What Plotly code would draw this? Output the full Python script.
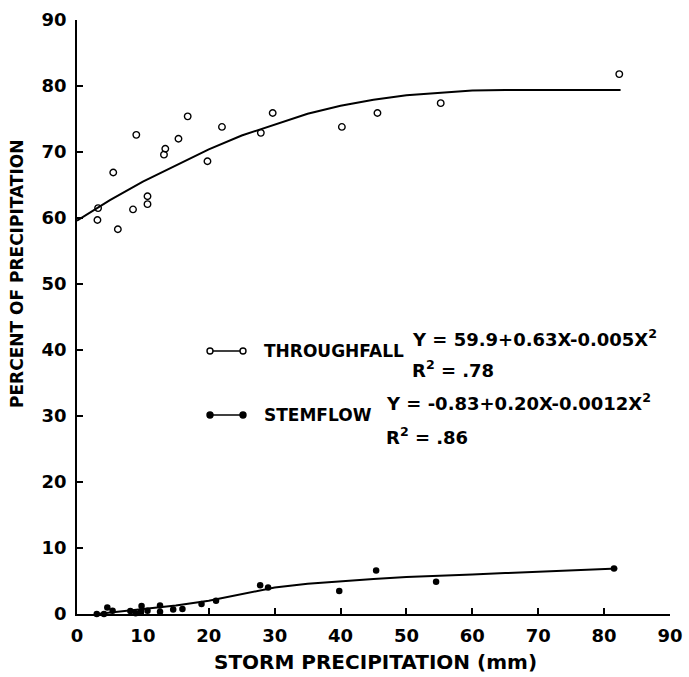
import plotly.graph_objects as go

# ---------------- data ----------------
tf_x = [3.1, 3.2, 5.5, 6.2, 8.5, 9.0, 10.7, 10.7, 13.2, 13.4, 15.4, 16.8,
        19.8, 22.0, 27.9, 29.7, 40.2, 45.6, 55.2, 82.3]
tf_y = [59.7, 61.5, 66.9, 58.3, 61.3, 72.6, 63.3, 62.1, 69.6, 70.5, 72.0, 75.4,
        68.6, 73.8, 72.9, 75.9, 73.8, 75.9, 77.4, 81.8]

sf_x = [3.0, 4.1, 4.6, 5.4, 8.1, 8.9, 9.7, 9.8, 10.7, 12.6, 12.6, 14.6,
        16.0, 18.9, 21.1, 27.8, 29.0, 39.8, 45.4, 54.5, 81.5]
sf_y = [0.0, 0.0, 1.0, 0.5, 0.45, 0.1, 0.35, 1.2, 0.5, 1.3, 0.35, 0.7,
        0.75, 1.5, 2.0, 4.35, 4.0, 3.5, 6.6, 4.9, 6.9]

tf_curve_x = [0, 5, 10, 15, 20, 25, 30, 35, 40, 45, 50, 55, 60, 65, 70, 75, 82.5]
tf_curve_y = [59.6, 62.7, 65.5, 68.0, 70.4, 72.5, 74.2, 75.8, 77.0, 77.9, 78.6,
              79.0, 79.3, 79.4, 79.4, 79.4, 79.4]

sf_curve_x = [3, 5, 10, 15, 20, 25, 30, 35, 40, 45, 50, 55, 60, 65, 70, 75, 82]
sf_curve_y = [0.0, 0.2, 0.7, 1.3, 2.0, 3.0, 4.0, 4.6, 5.0, 5.3, 5.6, 5.85, 6.0,
              6.2, 6.4, 6.6, 6.9]

tick_vals = [0, 10, 20, 30, 40, 50, 60, 70, 80, 90]
tick_labels = ["0", "10", "20", "30", "40", "50", "60", "70", "80", "90"]

x_title = "STORM PRECIPITATION (mm)"
y_title = "PERCENT OF PRECIPITATION"
tf_label = "THROUGHFALL"
sf_label = "STEMFLOW"
tf_eq = "Y = 59.9+0.63X-0.005X<sup>2</sup>"
tf_r2 = "R<sup>2</sup> = .78"
sf_eq = "Y = -0.83+0.20X-0.0012X<sup>2</sup>"
sf_r2 = "R<sup>2</sup> = .86"

# ---------------- layout helpers (page pixel positions) ----------------
W, H = 689, 677                      # browser window (page body margin removed)
PL, PR, PT, PB = 77, 670, 20, 614    # plot area edges on the page


def px(x):
    return (x - PL) / (PR - PL)


def py(y):
    return (PB - y) / (PB - PT)


FONT = "DejaVu Sans, Verdana, sans-serif"

fig = go.Figure()

fig.add_trace(go.Scatter(x=tf_curve_x, y=tf_curve_y, mode="lines",
                         line=dict(color="black", width=2), showlegend=False))
fig.add_trace(go.Scatter(x=sf_curve_x, y=sf_curve_y, mode="lines",
                         line=dict(color="black", width=2), showlegend=False))
fig.add_trace(go.Scatter(x=tf_x, y=tf_y, mode="markers", cliponaxis=False,
                         marker=dict(symbol="circle-open", size=6.5, color="black",
                                     line=dict(width=1.4, color="black")),
                         showlegend=False))
fig.add_trace(go.Scatter(x=sf_x, y=sf_y, mode="markers", cliponaxis=False,
                         marker=dict(symbol="circle", size=6.5, color="black"),
                         showlegend=False))

axis_common = dict(
    range=[0, 90], tickmode="array", tickvals=tick_vals, ticktext=tick_labels,
    ticks="inside", ticklen=6, tickwidth=1.5, tickcolor="black",
    showline=True, linecolor="black", linewidth=1.5,
    showgrid=False, zeroline=False, ticklabeloverflow="allow", automargin=False,
    tickfont=dict(family=FONT, size=18, color="black", weight="bold"),
)

fig.update_xaxes(**axis_common, ticklabelstandoff=5)
fig.update_yaxes(**axis_common, ticklabelstandoff=5)

ann_font = dict(family=FONT, size=17, color="black", weight="bold")
eq_font = dict(family=FONT, size=18, color="black", weight="bold")


def ann(text, x, y, font, xanchor="left", angle=0):
    return dict(text=text, x=px(x), y=py(y), xref="paper", yref="paper",
                showarrow=False, xanchor=xanchor, yanchor="middle",
                textangle=angle, font=font)


annotations = [
    ann(x_title, 375, 662, dict(family=FONT, size=20, color="black", weight="bold"),
        xanchor="center"),
    ann(y_title, 17, 274, dict(family=FONT, size=17, color="black", weight="bold"),
        xanchor="center", angle=-90),
    ann(tf_label, 262, 351, ann_font),
    ann(tf_eq, 410, 338, eq_font),
    ann(tf_r2, 410, 369, eq_font),
    ann(sf_label, 262, 415, ann_font),
    ann(sf_eq, 384, 402, eq_font),
    ann(sf_r2, 384, 436, eq_font),
]

# legend keys: a line with a circle at each end
shapes = []
r = 3
for yk, filled in [(351, False), (415, True)]:
    shapes.append(dict(type="line", xref="paper", yref="paper",
                       x0=px(210), x1=px(243), y0=py(yk), y1=py(yk),
                       line=dict(color="black", width=1.5)))
    for xc in (210, 243):
        shapes.append(dict(type="circle", xref="paper", yref="paper",
                           x0=px(xc - r), x1=px(xc + r), y0=py(yk + r), y1=py(yk - r),
                           line=dict(color="black", width=1.4),
                           fillcolor="black" if filled else "white"))

fig.update_layout(
    width=W, height=H,
    margin=dict(l=PL, r=W - PR, t=PT, b=H - PB),
    plot_bgcolor="white", paper_bgcolor="white",
    annotations=annotations, shapes=shapes,
    showlegend=False,
)

fig.write_html("out.html",
               config={"displayModeBar": False},
               post_script="document.body.style.margin='0px';"
                           "document.body.style.overflow='hidden';")
